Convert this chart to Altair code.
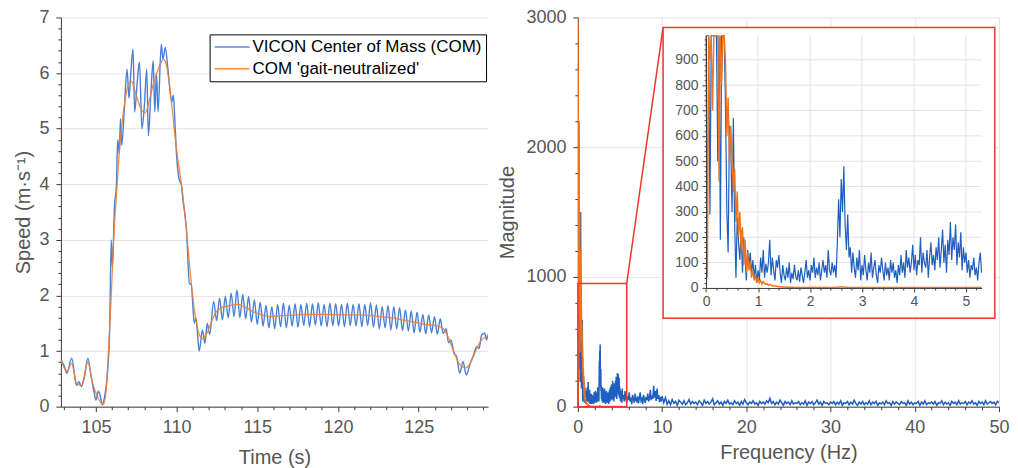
import altair as alt
import numpy as np
import pandas as pd

FONT = "Liberation Sans"
BLUE_TS = "#4a7fd6"
ORANGE_TS = "#f08030"
BLUE_FFT = "#1f5fbf"
ORANGE_FFT = "#ec7420"
RED = "#f0372c"
GRID = "#e4e4e4"
TXT = "#555555"
AX = "#3a3a3a"

SERIES = ["VICON Center of Mass (COM)", "COM 'gait-neutralized'"]

# ---------------- left panel: speed time series ----------------
VICON_T = [102.85, 103.05, 103.2, 103.5, 103.8, 103.95, 104.1, 104.3, 104.5, 104.7,
           104.9, 105.0, 105.15, 105.25, 105.4, 105.55, 105.7, 105.85, 105.95, 106.02,
           106.15, 106.27, 106.35, 106.45, 106.52, 106.6, 106.75, 106.93, 107.05, 107.15,
           107.3, 107.4, 107.55, 107.7, 107.85, 108.0, 108.15, 108.25, 108.4, 108.55,
           108.65, 108.75, 108.85, 109.05, 109.15, 109.3, 109.45, 109.7, 109.8, 109.9,
           110.0, 110.15, 110.3, 110.4, 110.5, 110.6, 110.8, 110.9, 111.1, 111.2,
           111.4, 111.6, 111.75, 111.9, 112.05]
VICON_V = [0.84, 0.72, 0.60, 0.87, 0.38, 0.45, 0.36, 0.55, 0.87, 0.55,
           0.24, 0.12, 0.28, 0.22, 0.03, 0.20, 0.55, 1.38, 3.0, 2.5,
           3.6, 3.98, 4.8, 4.55, 5.18, 4.7, 5.3, 6.07, 5.55, 5.95,
           6.43, 5.3, 5.8, 6.2, 5.0, 5.4, 6.07, 4.87, 5.6, 6.22,
           5.3, 6.0, 5.3, 6.52, 6.25, 6.46, 6.1, 5.48, 5.6, 5.1,
           4.52, 4.1, 3.98, 3.7, 3.5, 3.23, 2.21, 2.2, 1.5, 1.6,
           1.0, 1.38, 1.14, 1.5, 1.3]
GAIT_T = [112.30, 112.48, 112.66, 112.84, 113.02, 113.20, 113.38, 113.56, 113.74, 113.92,
          114.10, 114.28, 114.46, 114.64, 114.82, 115.00, 115.18, 115.36, 115.54, 115.72,
          115.90, 116.08, 116.26, 116.44, 116.62, 116.80, 116.98, 117.16, 117.34, 117.52,
          117.70, 117.88, 118.06, 118.24, 118.42, 118.60, 118.78, 118.96, 119.14, 119.32,
          119.50, 119.68, 119.86, 120.04, 120.22, 120.40, 120.58, 120.76, 120.94, 121.12,
          121.30, 121.48, 121.66, 121.84, 122.02, 122.20, 122.38, 122.56, 122.74, 122.92,
          123.10, 123.28, 123.46, 123.64, 123.82, 124.00, 124.18, 124.36, 124.54, 124.72,
          124.90, 125.08, 125.26, 125.44, 125.62, 125.80, 125.98, 126.16, 126.34, 126.52,
          126.70]
GAIT_V = [1.89, 1.55, 1.95, 1.56, 1.98, 1.60, 2.04, 1.62, 2.10, 1.60,
          2.02, 1.58, 1.98, 1.52, 1.92, 1.48, 1.88, 1.45, 1.82, 1.42,
          1.80, 1.40, 1.84, 1.44, 1.86, 1.42, 1.82, 1.45, 1.85, 1.43,
          1.84, 1.46, 1.86, 1.44, 1.85, 1.47, 1.87, 1.45, 1.84, 1.44,
          1.86, 1.46, 1.85, 1.45, 1.84, 1.44, 1.86, 1.46, 1.84, 1.45,
          1.85, 1.44, 1.84, 1.46, 1.87, 1.43, 1.83, 1.40, 1.80, 1.42,
          1.82, 1.38, 1.80, 1.40, 1.78, 1.37, 1.74, 1.36, 1.72, 1.33,
          1.70, 1.34, 1.66, 1.31, 1.65, 1.33, 1.62, 1.30, 1.58, 1.32,
          1.40]
TAIL_T = [126.85, 127.0, 127.2, 127.35, 127.55, 127.75, 127.95, 128.2, 128.4, 128.6,
          128.75, 128.9, 129.1, 129.2, 129.3]
TAIL_V = [1.15, 1.2, 0.95, 0.9, 0.6, 0.81, 0.57, 0.78, 0.93, 1.08,
          1.05, 1.29, 1.32, 1.2, 1.3]

SMOOTH_T = [102.85, 103.2, 103.5, 103.8, 104.1, 104.5, 104.8, 105.1, 105.35, 105.5,
            105.65, 105.78, 105.95, 106.1, 106.27, 106.5, 106.8, 107.0, 107.2, 107.5,
            107.8, 108.05, 108.3, 108.6, 108.9, 109.2, 109.4, 109.6, 109.85, 110.05,
            110.3, 110.6, 110.85, 111.1, 111.35, 111.6, 111.85, 112.1, 112.4, 112.8,
            113.3, 113.8, 114.3, 114.8, 115.3, 115.8, 116.3, 116.8, 117.5, 118.3,
            119.2, 120.1, 121.0, 121.9, 122.6, 123.3, 124.0, 124.7, 125.4, 126.0,
            126.4, 126.75, 127.1, 127.5, 127.9, 128.2, 128.5, 128.9, 129.3]
SMOOTH_V = [0.82, 0.64, 0.78, 0.42, 0.38, 0.80, 0.42, 0.18, 0.06, 0.05,
            0.35, 1.0, 2.0, 3.0, 3.8, 4.75, 5.5, 5.78, 5.85, 5.6,
            5.35, 5.28, 5.5, 5.85, 6.1, 6.25, 6.1, 5.7, 5.0, 4.5,
            4.0, 3.2, 2.4, 1.75, 1.35, 1.22, 1.3, 1.48, 1.68, 1.78,
            1.82, 1.84, 1.78, 1.7, 1.65, 1.62, 1.63, 1.64, 1.65, 1.66,
            1.66, 1.65, 1.65, 1.64, 1.62, 1.6, 1.56, 1.52, 1.48, 1.46,
            1.43, 1.3, 1.05, 0.78, 0.7, 0.78, 0.98, 1.2, 1.28]

# ---------------- right panel: FFT magnitude ----------------
FINE_STEP = 0.025          # 0 .. 5.3 Hz
FFT_VICON_FINE = [
    2650, 1800, 1100, 290, 1400, 2100, 1300, 1500, 1100, 500, 1200, 190, 1250, 1500, 1050, 700, 300, 140, 640, 560,
    300, 670, 250, 40, 280, 180, 110, 230, 60, 200, 120, 30, 150, 90, 140, 60, 110, 40, 90, 20,
    70, 30, 120, 60, 150, 40, 95, 60, 100, 190, 50, 120, 70, 30, 110, 80, 130, 60, 20, 90,
    50, 30, 80, 40, 100, 20, 60, 35, 90, 45, 30, 70, 25, 80, 50, 20, 60, 110, 40, 70,
    30, 90, 60, 120, 40, 80, 50, 100, 30, 70, 110, 60, 90, 40, 150, 70, 50, 100, 60, 90,
    40, 180, 350, 200, 430, 300, 480, 250, 150, 290, 120, 160, 60, 140, 80, 40, 120, 70, 150, 30,
    90, 50, 130, 70, 30, 100, 60, 140, 40, 80, 110, 50, 20, 90, 60, 120, 70, 30, 100, 50,
    80, 30, 110, 60, 100, 40, 70, 20, 90, 50, 130, 60, 100, 40, 150, 80, 120, 60, 100, 170,
    70, 130, 50, 110, 90, 200, 60, 140, 100, 80, 150, 40, 120, 180, 90, 130, 70, 160, 110, 200,
    80, 150, 230, 100, 170, 60, 190, 130, 260, 110, 200, 150, 250, 90, 180, 120, 220, 70, 160, 100,
    140, 60, 110, 40, 90, 70, 120, 50, 80, 30, 100, 140, 60]
FFT_SMOOTH_FINE = [
    3400, 40, 2600, 900, 1900, 700, 2200, 1300, 1000, 1500, 420, 1100, 800, 1200, 1000, 880, 600, 750, 500, 640,
    520, 380, 470, 260, 380, 200, 300, 150, 240, 90, 190, 60, 140, 70, 100, 40, 70, 30, 50, 20,
    40, 20, 30, 15, 25, 18, 14, 16, 10, 14, 12, 8, 9, 7, 8, 6, 6, 5, 5, 4,
    4, 4, 3, 3, 3, 3, 3, 3, 2, 2, 2, 2, 2, 2, 2, 2, 2, 2, 2, 2,
    3, 2, 2, 3, 2, 2, 2, 3, 2, 2, 2, 2, 3, 2, 2, 2, 2, 2, 3, 2,
    2, 3, 4, 3, 5, 3, 4, 3, 2, 3, 2, 2, 2, 2, 2, 2, 2, 2, 2, 2,
    2, 2, 2, 2, 2, 2, 2, 2, 2, 2, 2, 2, 2, 2, 2, 2, 2, 2, 2, 2,
    2, 2, 2, 2, 2, 2, 2, 2, 2, 2, 2, 2, 2, 2, 2, 2, 2, 2, 2, 2,
    2, 2, 2, 2, 2, 2, 2, 2, 2, 2, 2, 2, 2, 2, 2, 2, 2, 2, 2, 2,
    2, 2, 2, 2, 2, 2, 2, 2, 2, 2, 2, 2, 2, 2, 2, 2, 2, 2, 2, 2,
    2, 2, 2, 2, 2, 2, 2, 2, 2, 2, 2, 2, 2]
MID_START, MID_STEP = 5.4, 0.1      # 5.4 .. 10.0 Hz
FFT_VICON_MID = [
    90, 40, 120, 60, 30, 80,
    50, 110, 40, 70, 20, 90, 60, 30, 100, 50,
    40, 80, 25, 70, 110, 45, 60, 20, 90, 55,
    30, 75, 50, 100, 40, 65, 130, 50, 85, 60,
    160, 70, 120, 45, 140, 60, 90, 35, 75, 40,
    80]
HIGH_START, HIGH_STEP = 10.2, 0.2   # 10.2 .. 50 Hz
FFT_VICON_HIGH = [
    30, 70, 20, 45, 15, 55, 25, 40, 10, 50, 35, 20, 45, 15, 30, 55, 20, 40, 25, 35,
    15, 45, 30, 10, 50, 25, 40, 20, 35, 60, 15, 30, 45, 20, 35, 10, 40, 25, 50, 20,
    30, 15, 45, 25, 35, 10, 40, 20, 55, 30, 15, 35, 25, 45, 20, 30, 10, 40, 25, 35,
    20, 45, 30, 65, 25, 40, 15, 35, 20, 50, 30, 10, 40, 25, 35, 15, 45, 20, 30, 25,
    40, 15, 30, 20, 45, 10, 35, 25, 40, 15, 30, 50, 20, 35, 10, 40, 25, 30, 15, 35,
    25, 40, 15, 35, 20, 45, 10, 30, 25, 40, 15, 35, 20, 50, 25, 10, 35, 20, 40, 15,
    30, 20, 45, 15, 35, 25, 40, 10, 30, 20, 35, 15, 45, 25, 30, 10, 40, 20, 35, 25,
    15, 40, 25, 30, 10, 45, 20, 35, 15, 30, 25, 40, 10, 35, 20, 45, 15, 30, 25, 35,
    20, 40, 10, 30, 25, 45, 15, 35, 20, 30, 10, 40, 25, 35, 15, 45, 20, 30, 25, 40,
    15, 35, 25, 45, 20, 30, 10, 40, 25, 35, 15, 45, 20, 30, 40, 25, 35, 15, 40, 30]

# tick positions / labels
LEFT_X_TICKS = list(range(103, 130))            # majors every 5 s
LEFT_Y_TICKS = [round(0.2 * i, 1) for i in range(36)]
RIGHT_X_TICKS = list(range(0, 51, 2))           # majors every 10 Hz
RIGHT_Y_TICKS = list(range(0, 3001, 200))       # majors every 1000
INSET_X_TICKS = [round(0.2 * i, 1) for i in range(27)]
INSET_Y_TICKS = list(range(0, 981, 20))
INSET_X_GRID = [1, 2, 3, 4, 5]
INSET_Y_GRID = [100, 200, 300, 400, 500, 600, 700, 800, 900]

# zoom window and inset placement
ZOOM_F, ZOOM_M = 5.8, 950
BOX_F0, BOX_F1, BOX_M0, BOX_M1 = 10.12, 49.5, 682, 2923   # inset frame, in main-axis units
INSET_DOMAIN_F, INSET_DOMAIN_M = 5.3, 995

LW, LH = 428, 390
RW, RH = 422, 390
IN_X0, IN_X1 = RW * 15.22 / 50, RW * 47.93 / 50          # inset plot area (px)
IN_Y0, IN_Y1 = RH * (1 - 915 / 3000), RH * (1 - 2859 / 3000)


def ax(values, major, size=18, tmaj=5, tmin=3, grid=True, title=None, **kw):
    props = dict(values=values,
                 labelExpr=f"({major}) ? format(datum.value, '~g') : ''",
                 tickSize={"condition": {"test": major, "value": tmaj}, "value": tmin},
                 labelOverlap=False, labelFlush=False, labelFontSize=size,
                 grid=grid, title=title)
    if grid:
        props["gridOpacity"] = {"condition": {"test": major, "value": 1}, "value": 0}
    props.update(kw)
    return alt.Axis(**props)


# ---------- left chart ----------
vt = VICON_T + GAIT_T + TAIL_T
vv = VICON_V + GAIT_V + TAIL_V
ts = pd.concat([
    pd.DataFrame({"t": vt, "v": vv, "s": SERIES[0]}),
    pd.DataFrame({"t": SMOOTH_T, "v": SMOOTH_V, "s": SERIES[1]}),
])

x_left = alt.X("t:Q", scale=alt.Scale(domain=[102.83, 129.3], nice=False, zero=False, padding=0),
               axis=ax(LEFT_X_TICKS, "datum.value % 5 == 0", grid=False, title="Time (s)",
                       titleX=LW / 2, titleY=51, titleBaseline="middle", titleAlign="center"))
y_left = alt.Y("v:Q", scale=alt.Scale(domain=[0, 7], nice=False, padding=0),
               axis=ax(LEFT_Y_TICKS, "abs(datum.value - round(datum.value)) < 0.01",
                       title="Speed (m·s⁻¹)", titleX=-37, titleY=LH / 2,
                       titleBaseline="middle", titleAlign="center"))
color = alt.Color("s:N", scale=alt.Scale(domain=SERIES, range=[BLUE_TS, ORANGE_TS]),
                  legend=alt.Legend(orient="none", legendX=149, legendY=17, title=None,
                                    strokeColor="black", fillColor="white", padding=4,
                                    symbolType="M-2.5,0H2.5", symbolSize=196, symbolStrokeWidth=1.5,
                                    symbolOffset=10, labelOffset=12,
                                    labelFontSize=17, labelColor="black", labelFont=FONT,
                                    labelLimit=400, rowPadding=4))

blue_ts = alt.Chart(ts).transform_filter(alt.datum.s == SERIES[0]).mark_line(
    strokeWidth=1.4, clip=True, interpolate="monotone").encode(x=x_left, y=y_left, color=color)
orange_ts = alt.Chart(ts).transform_filter(alt.datum.s == SERIES[1]).mark_line(
    strokeWidth=1.3, clip=True, interpolate="monotone", opacity=0.9).encode(x=x_left, y=y_left, color=color)
left = alt.layer(blue_ts, orange_ts).properties(width=LW, height=LH)

# ---------- right chart ----------
f_fine = np.round(np.arange(len(FFT_VICON_FINE)) * FINE_STEP, 4)
f_mid = np.round(MID_START + np.arange(len(FFT_VICON_MID)) * MID_STEP, 4)
f_high = np.round(HIGH_START + np.arange(len(FFT_VICON_HIGH)) * HIGH_STEP, 4)
vicon_fine = pd.DataFrame({"f": f_fine, "m": FFT_VICON_FINE})
smooth_fine = pd.DataFrame({"f": f_fine, "m": FFT_SMOOTH_FINE})
vicon_all = pd.concat([vicon_fine,
                       pd.DataFrame({"f": f_mid, "m": FFT_VICON_MID}),
                       pd.DataFrame({"f": f_high, "m": FFT_VICON_HIGH})])

x_main = alt.X("f:Q", scale=alt.Scale(domain=[0, 50], nice=False, padding=0),
               axis=ax(RIGHT_X_TICKS, "datum.value % 10 == 0", title="Frequency (Hz)",
                       titleX=RW / 2, titleY=46, titleBaseline="middle", titleAlign="center"))
y_main = alt.Y("m:Q", scale=alt.Scale(domain=[0, 3000], nice=False, padding=0),
               axis=ax(RIGHT_Y_TICKS, "datum.value % 1000 == 0", title="Magnitude",
                       titleX=-70, titleY=RH / 2, titleBaseline="middle", titleAlign="center"))

zoom_df = pd.DataFrame({"f": [0.0], "f2": [ZOOM_F], "m": [0.0], "m2": [ZOOM_M]})
diag_df = pd.DataFrame({"f": [ZOOM_F], "f2": [BOX_F0], "m": [ZOOM_M], "m2": [BOX_M1]})
box_df = pd.DataFrame({"f": [BOX_F0], "f2": [BOX_F1], "m": [BOX_M0], "m2": [BOX_M1]})

main_blue = alt.Chart(vicon_all).mark_line(color=BLUE_FFT, strokeWidth=1.5, clip=True).encode(x=x_main, y=y_main)
main_orange = alt.Chart(smooth_fine).mark_line(color=ORANGE_FFT, strokeWidth=1.5, clip=True).encode(x=x_main, y=y_main)
zoom_rect = alt.Chart(zoom_df).mark_rect(filled=False, color=RED, strokeWidth=1.5).encode(
    x=x_main, x2="f2:Q", y=y_main, y2="m2:Q")
diag = alt.Chart(diag_df).mark_rule(color=RED, strokeWidth=1.5).encode(
    x=x_main, x2="f2:Q", y=y_main, y2="m2:Q")
inset_box = alt.Chart(box_df).mark_rect(fill="white", stroke=RED, strokeWidth=1.5).encode(
    x=x_main, x2="f2:Q", y=y_main, y2="m2:Q")
main = alt.layer(main_blue, main_orange, zoom_rect, diag, inset_box)

x_in = alt.X("f:Q", scale=alt.Scale(domain=[0, INSET_DOMAIN_F], range=[IN_X0, IN_X1], nice=False, zero=False, padding=0),
             axis=ax(INSET_X_TICKS, "abs(datum.value - round(datum.value)) < 0.01", size=14,
                     tmaj=4, tmin=2, grid=False, orient="bottom", offset=IN_Y0 - RH, zindex=1,
                     labelPadding=3))
y_in = alt.Y("m:Q", scale=alt.Scale(domain=[0, INSET_DOMAIN_M], range=[IN_Y0, IN_Y1], nice=False, clamp=True, padding=0),
             axis=ax(INSET_Y_TICKS, "datum.value % 100 == 0", size=14, tmaj=4, tmin=2,
                     grid=False, orient="left", offset=-IN_X0, zindex=1, labelPadding=4))

vgrid_df = pd.DataFrame({"f": INSET_X_GRID, "m": 0, "m2": INSET_DOMAIN_M})
hgrid_df = pd.DataFrame({"m": INSET_Y_GRID, "f": 0, "f2": INSET_DOMAIN_F})
in_vgrid = alt.Chart(vgrid_df).mark_rule(color=GRID).encode(x=x_in, y=y_in, y2="m2:Q")
in_hgrid = alt.Chart(hgrid_df).mark_rule(color=GRID).encode(y=y_in, x=x_in, x2="f2:Q")
in_blue = alt.Chart(vicon_fine).mark_line(color=BLUE_FFT, strokeWidth=1.2).encode(x=x_in, y=y_in)
in_orange = alt.Chart(smooth_fine).mark_line(color=ORANGE_FFT, strokeWidth=1.4).encode(x=x_in, y=y_in)
inset = alt.layer(in_vgrid, in_hgrid, in_blue, in_orange)

right = alt.layer(main, inset).resolve_scale(x="independent", y="independent").properties(width=RW, height=RH)

chart = (
    alt.hconcat(left, right, spacing=10)
    .resolve_scale(color="independent")
    .properties(padding={"left": 6, "top": 0, "right": 0, "bottom": 0})
    .configure_axis(labelFont=FONT, titleFont=FONT, labelColor=TXT, titleColor=TXT,
                    titleFontSize=20, titleFontWeight="normal", domainColor=AX, tickColor=AX,
                    gridColor=GRID, labelPadding=7)
    .configure_view(stroke=None)
)

chart.save("out.html", embed_options={"renderer": "svg", "actions": False})
